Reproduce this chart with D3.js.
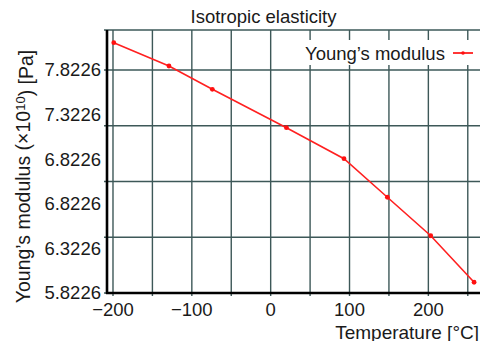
<!DOCTYPE html>
<html>
<head>
<meta charset="utf-8">
<script src="https://cdn.jsdelivr.net/npm/d3@7"></script>
<style>
  body { margin: 0; background: #fff; }
  text { font-family: "Liberation Sans", Arial, sans-serif; fill: #1a1a1a; }
</style>
</head>
<body>
<svg></svg>
<script>
const CHART_SIZE = { width: 480, height: 341 };
const PLOT = { left: 107, right: 480, top: 30, bottom: 293 };

// temperature [°C] and Young's modulus (x1e10 Pa)
const temperatures = [-199, -129, -74, 20, 93, 148, 203, 258];
const modulus = [8.067, 7.858, 7.649, 7.305, 7.027, 6.681, 6.336, 5.919];

const xTicks = [-200, -100, 0, 100, 200];
const xGrid = [-200, -150, -100, -50, 0, 50, 100, 150, 200, 250];
const yGrid = [5.8226, 6.3226, 6.8226, 7.3226, 7.8226];
const yTickLabels = ['5.8226', '6.3226', '6.8226', '6.8226', '7.3226', '7.8226'];

const x = d3.scaleLinear().domain([-207.6, 265.5]).range([PLOT.left, PLOT.right]);
const y = d3.scaleLinear().domain([5.8226, 8.181]).range([PLOT.bottom, PLOT.top]);
// the label column is spread evenly over the gridded part of the axis
const yLabel = d3.scalePoint().domain(d3.range(yTickLabels.length)).range([PLOT.bottom, y(7.8226)]);

const main = function() {
  const svg = d3.select('svg')
    .attr('width', CHART_SIZE.width)
    .attr('height', CHART_SIZE.height);

  const grid = svg.append('g').attr('stroke', '#3d5858').attr('stroke-width', 1.4);
  grid.selectAll('.vg').data(xGrid).join('line')
    .attr('x1', d => x(d)).attr('x2', d => x(d))
    .attr('y1', PLOT.top).attr('y2', PLOT.bottom + 3);
  grid.selectAll('.hg').data(yGrid.concat([y.domain()[1]])).join('line')
    .attr('x1', PLOT.left - 3).attr('x2', PLOT.right)
    .attr('y1', d => y(d)).attr('y2', d => y(d));

  // axes
  svg.append('line').attr('stroke', '#000').attr('stroke-width', 2.6)
    .attr('x1', PLOT.left).attr('x2', PLOT.left)
    .attr('y1', PLOT.top).attr('y2', PLOT.bottom + 1);
  svg.append('line').attr('stroke', '#000').attr('stroke-width', 2.6)
    .attr('x1', PLOT.left - 1).attr('x2', PLOT.right)
    .attr('y1', PLOT.bottom).attr('y2', PLOT.bottom);

  svg.append('g').selectAll('text').data(xTicks).join('text')
    .attr('x', d => x(d)).attr('y', 316)
    .attr('text-anchor', 'middle').style('font-size', '18.5px')
    .text(d => d < 0 ? '\u2212' + Math.abs(d) : d);

  svg.append('g').selectAll('text').data(yTickLabels).join('text')
    .attr('x', 101).attr('y', (d, i) => yLabel(i))
    .attr('dy', '0.35em')
    .attr('text-anchor', 'end').style('font-size', '18.5px')
    .text(d => d);

  // series
  const pts = temperatures.map((t, i) => [t, modulus[i]]);
  const line = d3.line().x(d => x(d[0])).y(d => y(d[1]));
  svg.append('path').attr('d', line(pts))
    .attr('fill', 'none').attr('stroke', '#ff2020').attr('stroke-width', 1.6);
  svg.append('g').selectAll('circle').data(pts).join('circle')
    .attr('cx', d => x(d[0])).attr('cy', d => y(d[1])).attr('r', 2.4)
    .attr('fill', '#ff1010');

  // legend
  const lg = svg.append('g');
  lg.append('rect').attr('x', 298).attr('y', 40).attr('width', 182).attr('height', 25).attr('fill', '#fff');
  lg.append('text').attr('x', 305).attr('y', 60).style('font-size', '18.5px').text('Young\u2019s modulus');
  lg.append('line').attr('x1', 453).attr('x2', 473).attr('y1', 53).attr('y2', 53)
    .attr('stroke', '#ff2020').attr('stroke-width', 1.8);
  lg.append('circle').attr('cx', 463).attr('cy', 53).attr('r', 1.8).attr('fill', '#ff1010');

  // titles
  svg.append('text').attr('x', 263.5).attr('y', 22.5)
    .attr('text-anchor', 'middle').style('font-size', '18.5px')
    .text('Isotropic elasticity');

  svg.append('text').attr('x', 479).attr('y', 338.5)
    .attr('text-anchor', 'end').style('font-size', '19px')
    .text('Temperature [\u00b0C]');

  const yt = svg.append('text')
    .attr('transform', 'translate(30,176.5) rotate(-90)')
    .attr('text-anchor', 'middle').style('font-size', '19.5px');
  yt.append('tspan').text('Young\u2019s modulus (\u00d710');
  yt.append('tspan').attr('dy', '-0.4em').style('font-size', '13px').text('10');
  yt.append('tspan').attr('dy', '0.4em').text(') [Pa]');
};

window.onload = main;
</script>
</body>
</html>
